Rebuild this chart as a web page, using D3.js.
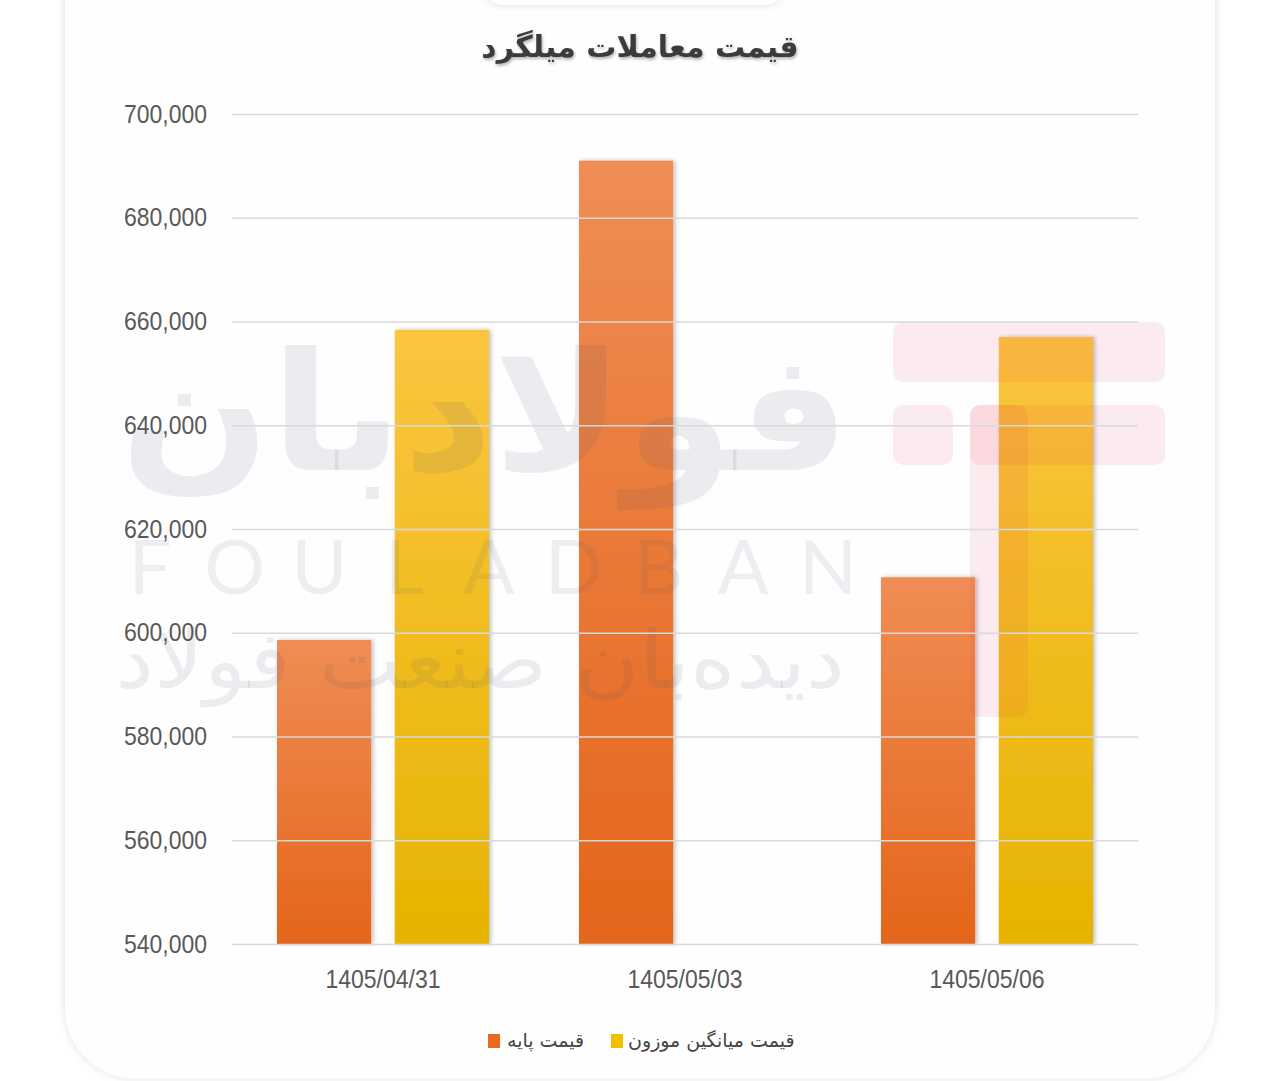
<!DOCTYPE html>
<html>
<head>
<meta charset="utf-8">
<script src="https://cdn.jsdelivr.net/npm/d3@7"></script>
<style>
  html, body { margin: 0; padding: 0; background: #ffffff; }
  svg { display: block; }
</style>
</head>
<body>
<svg id="chart" width="1280" height="1081"></svg>
<script>
const categories = ['1405/04/31', '1405/05/03', '1405/05/06'];
const seriesNames = ['قیمت پایه', 'قیمت میانگین موزون'];
const basePrice = [598600, 691000, 610700];
const weightedAvg = [658400, null, 657000];
const yTicks = [540000, 560000, 580000, 600000, 620000, 640000, 660000, 680000, 700000];
const chartTitle = 'قیمت معاملات میلگرد';

const svg = d3.select('#chart');
const defs = svg.append('defs');

const plotLeft = 232, plotRight = 1138, plotTop = 114, plotBottom = 944;
const width = plotRight - plotLeft;

// card background + shadow
const sh = defs.append('filter').attr('id', 'cardShadow')
  .attr('x', '-10%').attr('y', '-10%').attr('width', '120%').attr('height', '120%');
sh.append('feDropShadow').attr('dx', 0).attr('dy', 0).attr('stdDeviation', 4)
  .attr('flood-color', '#000').attr('flood-opacity', 0.12);

svg.append('rect').attr('width', 1280).attr('height', 1081).attr('fill', '#ffffff');
svg.append('rect')
  .attr('x', 65).attr('y', -80).attr('width', 1150).attr('height', 1158)
  .attr('rx', 70).attr('fill', '#fefefe').attr('filter', 'url(#cardShadow)');
svg.append('rect')
  .attr('x', 484).attr('y', -40).attr('width', 300).attr('height', 45)
  .attr('rx', 20).attr('fill', '#ffffff').attr('filter', 'url(#cardShadow)');

// gradients
const grads = [
  { id: 'gOrange', top: '#f08d55', bot: '#e4651a' },
  { id: 'gYellow', top: '#fbc540', bot: '#e6b400' }
];
grads.forEach(g => {
  const lg = defs.append('linearGradient').attr('id', g.id)
    .attr('x1', 0).attr('y1', 0).attr('x2', 0).attr('y2', 1);
  lg.append('stop').attr('offset', '0%').attr('stop-color', g.top);
  lg.append('stop').attr('offset', '100%').attr('stop-color', g.bot);
});
const barShadow = defs.append('filter').attr('id', 'barShadow')
  .attr('x', '-20%').attr('y', '-5%').attr('width', '140%').attr('height', '110%');
barShadow.append('feDropShadow').attr('dx', 2).attr('dy', 0).attr('stdDeviation', 2)
  .attr('flood-color', '#000').attr('flood-opacity', 0.25);

const x0 = d3.scaleBand().domain(categories).range([plotLeft, plotRight]).padding(0);
const x1 = d3.scaleBand().domain(seriesNames).range([45, x0.bandwidth() - 45]).paddingInner(0.2);
const y = d3.scaleLinear().domain([540000, 700000]).range([plotBottom, plotTop]);

const color = d3.scaleOrdinal().domain(seriesNames).range(['url(#gOrange)', 'url(#gYellow)']);
const swatch = d3.scaleOrdinal().domain(seriesNames).range(['#e8691f', '#f2c000']);

const fmt = d3.format(',');
const squish = 0.92;

// grid + y labels
const yAxis = svg.append('g')
  .attr('transform', `translate(${plotLeft},0)`)
  .call(d3.axisLeft(y).tickValues(yTicks).tickSize(-width).tickFormat(fmt));
yAxis.select('.domain').remove();
yAxis.selectAll('.tick line').attr('stroke', '#d9d9d9').attr('stroke-width', 1.5);

// bars
const rows = categories.map((c, i) => ({
  cat: c,
  values: [
    { name: seriesNames[0], value: basePrice[i] },
    { name: seriesNames[1], value: weightedAvg[i] }
  ].filter(d => d.value != null)
}));

const groups = svg.append('g').selectAll('g')
  .data(rows).enter().append('g')
  .attr('transform', d => `translate(${x0(d.cat)},0)`);

groups.selectAll('rect')
  .data(d => d.values).enter().append('rect')
  .attr('x', d => x1(d.name))
  .attr('y', d => y(d.value))
  .attr('width', x1.bandwidth())
  .attr('height', d => plotBottom - y(d.value))
  .attr('fill', d => color(d.name))
  .attr('filter', 'url(#barShadow)');

// watermark (drawn over the bars, very faint)
const wm = svg.append('g').attr('pointer-events', 'none');
const grey = '#46506e';
function fitWord(sel, rightX, baseY, targetW) {
  const w = sel.node().getComputedTextLength();
  sel.attr('transform', `translate(${rightX},${baseY}) scale(${targetW / w},1)`);
}
const bigWord = wm.append('text')
  .attr('text-anchor', 'end')
  .attr('fill', grey).attr('fill-opacity', 0.1)
  .style('font-family', '"DejaVu Sans", sans-serif')
  .style('font-weight', 'bold')
  .style('font-size', '165px')
  .text('فولادبان');
fitWord(bigWord, 850, 470, 730);

const latin = 'FOULADBAN'.split('');
const lx = d3.scalePoint().domain(d3.range(latin.length)).range([150, 828]);
wm.selectAll('.wmLetter').data(latin).enter().append('text')
  .attr('class', 'wmLetter')
  .attr('x', (d, i) => lx(i)).attr('y', 594)
  .attr('text-anchor', 'middle')
  .attr('fill', grey).attr('fill-opacity', 0.09)
  .style('font-family', 'Lato, sans-serif')
  .style('font-size', '76px')
  .text(d => d);

const subWord = wm.append('text')
  .attr('text-anchor', 'end')
  .attr('fill', grey).attr('fill-opacity', 0.1)
  .style('font-family', '"DejaVu Sans", sans-serif')
  .style('font-size', '80px')
  .text('دیده‌بان صنعت فولاد');
fitWord(subWord, 845, 688, 730);

const pink = '#e6284a';
const logo = [
  [893, 322, 272, 60],
  [893, 405, 60, 60],
  [970, 405, 195, 60],
  [970, 405, 58, 312]
];
logo.forEach(r => {
  wm.append('rect').attr('x', r[0]).attr('y', r[1]).attr('width', r[2]).attr('height', r[3])
    .attr('rx', 10).attr('fill', pink).attr('fill-opacity', 0.09);
});

// y labels on top of the watermark
yAxis.raise();
yAxis.selectAll('.tick text')
  .attr('x', -25 / squish)
  .attr('transform', `scale(${squish},1)`)
  .attr('fill', '#595959')
  .style('font-family', '"Liberation Sans", Arial, sans-serif')
  .style('font-size', '25px');

// x labels
svg.append('g').selectAll('text')
  .data(categories).enter().append('text')
  .attr('transform', d => `translate(${x0(d) + x0.bandwidth() / 2},988) scale(${squish},1)`)
  .attr('text-anchor', 'middle')
  .attr('fill', '#595959')
  .style('font-family', '"Liberation Sans", Arial, sans-serif')
  .style('font-size', '25px')
  .text(d => d);

// title
const ts = defs.append('filter').attr('id', 'titleShadow');
ts.append('feDropShadow').attr('dx', 1).attr('dy', 2).attr('stdDeviation', 1.5)
  .attr('flood-color', '#000').attr('flood-opacity', 0.3);
svg.append('text')
  .attr('x', 640).attr('y', 57)
  .attr('text-anchor', 'middle')
  .attr('fill', '#3a3a3a')
  .attr('filter', 'url(#titleShadow)')
  .style('font-family', '"DejaVu Sans", sans-serif')
  .style('font-weight', 'bold')
  .style('font-size', '30px')
  .text(chartTitle);

// legend
const legendItems = [
  { name: seriesNames[0], sx: 488, tx: 507 },
  { name: seriesNames[1], sx: 611, tx: 628 }
];
const lgd = svg.append('g');
legendItems.forEach(it => {
  lgd.append('rect').attr('x', it.sx).attr('y', 1034).attr('width', 12).attr('height', 14)
    .attr('fill', swatch(it.name));
  lgd.append('text')
    .attr('x', it.tx).attr('y', 1047)
    .attr('text-anchor', 'start')
    .attr('fill', '#444')
    .style('font-family', '"DejaVu Sans", sans-serif')
    .style('font-size', '19px')
    .text(it.name);
});
</script>
</body>
</html>
